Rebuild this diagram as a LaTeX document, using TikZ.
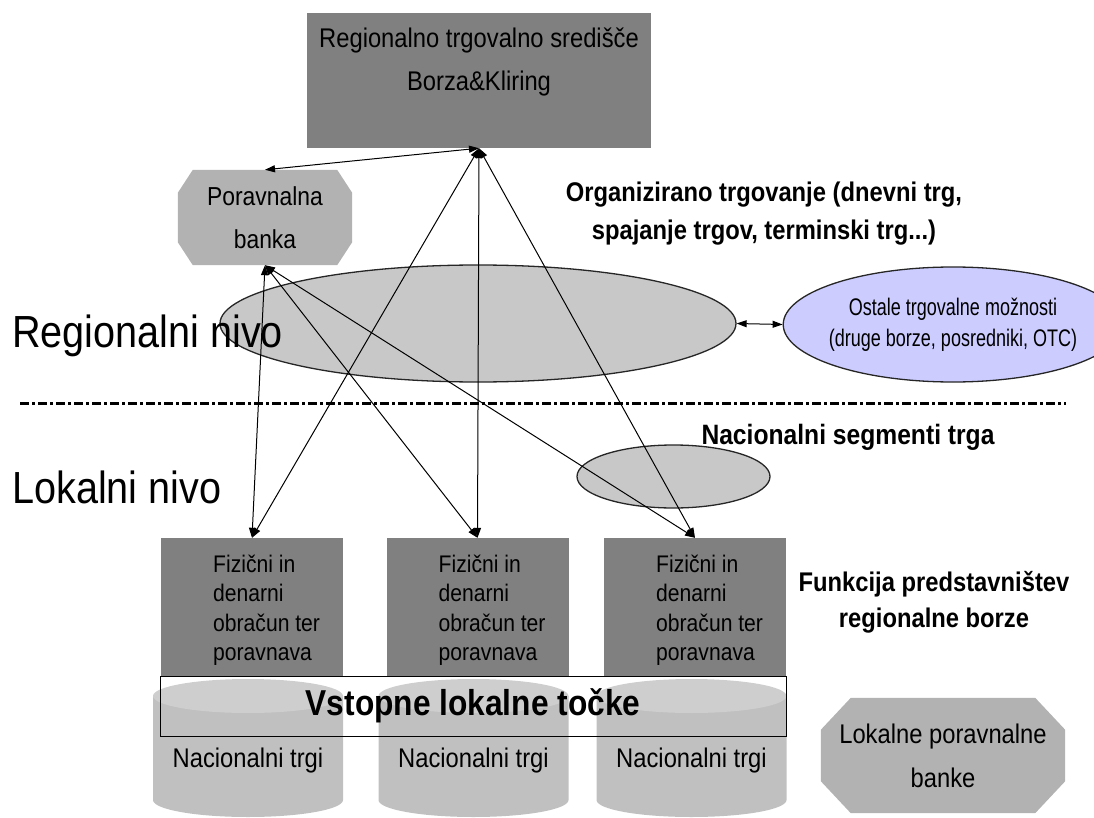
\documentclass[tikz,border=0pt]{standalone}
\usepackage{fontspec}
\setmainfont{Liberation Sans}[FakeStretch=0.88]
\newfontfamily\condfont{Liberation Sans}[FakeStretch=0.75]
\usetikzlibrary{arrows.meta,positioning,shapes.geometric,backgrounds}
\definecolor{boxgray}{HTML}{808080}
\definecolor{octgray}{HTML}{B2B2B2}
\definecolor{ellgray}{HTML}{C8C8C8}
\definecolor{cylbody}{HTML}{C0C0C0}
\definecolor{cyltop}{HTML}{CECECE}
\definecolor{lilac}{HTML}{CCCCFF}
\tikzset{
  gbox/.style={rectangle, fill=boxgray, inner sep=0pt},
  ell/.style={ellipse, draw=black!85, line width=1.3pt, fill=ellgray, inner sep=0pt},
  dbl/.style={{Triangle[length=10pt,width=7pt]}-{Triangle[length=10pt,width=7pt]}, line width=1pt},
  lbl/.style={font=\fontsize{27}{40}\selectfont, align=center, inner sep=0pt},
  blbl/.style={font=\bfseries\fontsize{27}{38}\selectfont, align=center, inner sep=0pt},
  nivo/.style={font=\fontsize{45}{50}\selectfont, anchor=base west, inner sep=0pt},
  ftxt/.style={font=\fontsize{24}{29.5}\selectfont, align=left, anchor=west, inner sep=0pt},
  band/.style={draw, line width=1pt, minimum width=626, minimum height=60, inner sep=0pt,
    font=\bfseries\fontsize{36}{40}\selectfont},
  divider/.style={line width=3pt, dash pattern=on 9pt off 3pt on 3pt off 3pt},
}
% chamfered background of a node: node, cut in x, cut in y
\newcommand{\octfill}[3]{%
  \fill[octgray] ([xshift=#2]#1.north west) -- ([xshift=-#2]#1.north east)
    -- ([yshift=-#3]#1.north east) -- ([yshift=#3]#1.south east)
    -- ([xshift=-#2]#1.south east) -- ([xshift=#2]#1.south west)
    -- ([yshift=#3]#1.south west) -- ([yshift=-#3]#1.north west) -- cycle;}

\begin{document}
\begin{tikzpicture}[x=1pt, y=-1pt]
  \useasboundingbox (0,0) rectangle (1094,818);

  % --- national markets ---
  \foreach \i/\cx in {1/248, 2/473.5, 3/691.5} {
    \fill[cylbody] (\cx-95,696) -- (\cx-95,800)
      arc[start angle=180, end angle=360, x radius=95pt, y radius=17pt] -- (\cx+95,696) -- cycle;
    \fill[cyltop] (\cx,696) ellipse[x radius=95pt, y radius=17pt];
    \node[lbl] (nt\i) at (\cx,761) {Nacionalni trgi};
  }

  % --- settlement boxes ---
  \foreach \i/\bx in {1/252, 2/477.5, 3/695} {
    \node[gbox, minimum width=182, minimum height=138] (fz\i) at (\bx,607) {};
    \node[ftxt] (ft\i) at (\bx-39,610) {Fizični in\\denarni\\obračun ter\\poravnava};
  }
  \node[band] (entry) at (473,706) {Vstopne lokalne točke};

  % --- regional centre and banks ---
  \node[gbox, minimum width=344, minimum height=135] (hub) at (479,80.5) {};
  \node[lbl, font=\fontsize{27}{43}\selectfont] (hubtxt) at (479,62)
    {Regionalno trgovalno središče\\Borza\&Kliring};
  \node[lbl, font=\fontsize{26}{43}\selectfont, minimum width=174, minimum height=95]
    (pbank) at (265,217.5) {Poravnalna\\banka};
  \node[lbl, font=\fontsize{27}{44}\selectfont, minimum width=244, minimum height=115]
    (lbank) at (943,755.5) {Lokalne poravnalne\\banke};
  \begin{scope}[on background layer]
    \octfill{pbank}{15}{23}
    \octfill{lbank}{30}{32}
  \end{scope}

  % --- trading ellipses ---
  \node[ell, minimum width=516, minimum height=117] (trade) at (478,323.5) {};
  \node[ell, fill=lilac, minimum width=282, minimum height=115, inner xsep=-4pt,
    font=\condfont\fontsize{24}{31}\selectfont, align=center] (other) at (953,324.5)
    {Ostale trgovalne možnosti\\(druge borze, posredniki, OTC)};
  \node[ell, minimum width=193, minimum height=63] (seg) at (673.5,476.5) {};

  % divider
  \coordinate (dl) at (20,403);
  \coordinate (dr) at (1066,403);
  \draw[divider] (dl) -- (dr);

  % --- labels ---
  \node[nivo] (regn) at (12,347) {Regionalni nivo};
  \node[nivo] (lokn) at (12,503) {Lokalni nivo};
  \node[blbl] (orgt) at (764,214) {Organizirano trgovanje (dnevni trg,\\spajanje trgov, terminski trg...)};
  \node[blbl, font=\bfseries\fontsize{28}{34}\selectfont] (segt) at (848,437) {Nacionalni segmenti trga};
  \node[blbl, font=\bfseries\fontsize{27}{36}\selectfont] (funt) at (934,602)
    {Funkcija predstavništev\\regionalne borze};

  % --- connectors ---
  \draw[dbl] (pbank.north) -- (hub.south);
  \foreach \i in {1,2,3} {
    \draw[dbl] (hub.south) -- (fz\i.north);
    \draw[dbl] (pbank.south) -- (fz\i.north);
  }
  \draw[dbl] (trade.east) -- (other.west);
\end{tikzpicture}
\end{document}
